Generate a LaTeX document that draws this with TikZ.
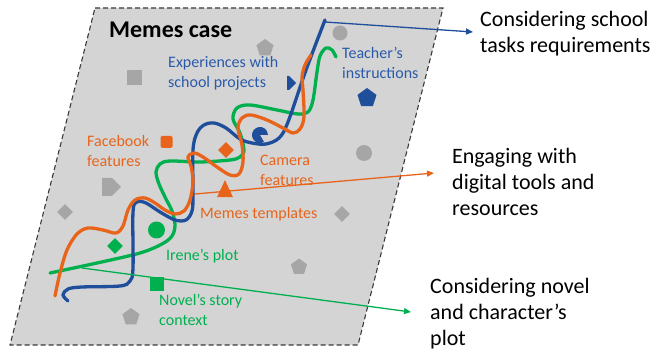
\documentclass[tikz,border=0pt]{standalone}
\usepackage{fontspec}
\setmainfont{Carlito}
\usetikzlibrary{shapes.geometric,shapes.symbols,arrows.meta}
\definecolor{cblue}{HTML}{1F4E9A}
\definecolor{tblue}{HTML}{2A5AA8}
\definecolor{corange}{HTML}{E8641B}
\definecolor{cgreen}{HTML}{00B04F}
\definecolor{bgray}{HTML}{D4D4D4}
\definecolor{sgray}{HTML}{A6A6A6}
\definecolor{dashc}{HTML}{3A3A3A}
\tikzset{
  wave/.style={line width=3.3pt,line cap=round,line join=round},
  conn/.style={line width=1.3pt,-{Triangle[length=7pt,width=6pt]}},
  lbl/.style={inner sep=0pt,anchor=west,align=left,font=\fontsize{16}{20}\selectfont},
  rtxt/.style={inner sep=0pt,anchor=west,align=left,font=\fontsize{22}{26}\selectfont,text=black},
  pent/.style={regular polygon,regular polygon sides=5,inner sep=0pt,minimum size=#1},
  dia/.style={diamond,inner sep=0pt,minimum width=#1,minimum height=#1},
  sq/.style={rectangle,inner sep=0pt,minimum size=#1},
  dot/.style={circle,inner sep=0pt,minimum size=#1},
  plate/.style={signal,signal to=east,inner sep=0pt}
}
\begin{document}
\begin{tikzpicture}[x=1pt,y=-1pt]
\useasboundingbox (0,0) rectangle (650,352);
% case area
\filldraw[fill=bgray,draw=dashc,line width=1.1pt,dash pattern=on 5pt off 3pt]
  (95,8) -- (443,8) -- (358,345) -- (10,345) -- cycle;
\node[anchor=west,inner sep=0pt,font=\fontsize{24}{28}\selectfont\bfseries] (title) at (109,30) {Memes case};
% gray shapes
\node[sq=15pt,fill=sgray] (g1) at (134.5,77.5) {};
\node[pent=18pt,fill=sgray] (g2) at (265,48) {};
\node[dot=15pt,fill=sgray] (g3) at (340,33) {};
\node[dot=16pt,fill=sgray] (g4) at (364,153) {};
\node[plate,fill=sgray,minimum width=19pt,minimum height=18pt] (g5) at (107,187) {};
\node[dia=16pt,fill=sgray] (g6) at (65,212) {};
\node[dia=16pt,fill=sgray] (g7) at (342,214) {};
\node[pent=17pt,fill=sgray] (g8) at (299,267) {};
\node[pent=18pt,fill=sgray] (g9) at (131,317) {};
% coloured markers
\node[plate,fill=cblue,minimum width=9pt,minimum height=14pt] (b1) at (288,83) {};
\node[pent=20pt,fill=cblue] (b2) at (367,98) {};
\fill[cblue] (260,135) -- ++(60:8) arc[start angle=60,end angle=360,radius=8] -- cycle;
\node[sq=12pt,fill=corange,rounded corners=1.5pt] (o1) at (166.5,142) {};
\node[dia=16pt,fill=corange] (o2) at (226,150) {};
\node[isosceles triangle,isosceles triangle apex angle=50,shape border rotate=90,fill=corange,inner sep=0pt,minimum height=17pt,minimum width=14pt] (o3) at (225,192) {};
\node[dot=17pt,fill=cgreen] (gr1) at (156.5,230) {};
\node[dia=16pt,fill=cgreen] (gr2) at (115,246) {};
\node[sq=14pt,fill=cgreen] (gr3) at (157,284) {};
% waves
\draw[wave,cgreen] plot[smooth,tension=0.55] coordinates {
 (50,273) (97,263) (140,253) (162,244) (172,236) (175,225) (172,211) (166,199)
 (159,184) (156,172) (160,164) (170,161) (200,162) (230,160) (240,157) (244,150)
 (240,133) (233,119) (237,108) (250,105) (277,110) (298,114) (308,112) (313,100)
 (317,72) (320,56) (326,48) (332,50) (336,57)};
\draw[wave,cblue] plot[smooth,tension=0.55] coordinates {
 (68,301) (63,295) (68,289) (82,287) (120,286) (130,281) (133,268) (133,212)
 (137,202) (146,203) (160,212) (175,220) (186,220) (192,211) (193,195) (193,150)
 (197,133) (204,125) (214,123) (226,128) (240,139) (252,143) (266,144) (279,138)
 (288,122) (306,70) (325,20)};
\draw[wave,corange] plot[smooth,tension=0.55] coordinates {
 (55,296) (60,273) (67,250) (77,234) (88,228) (103,230) (116,233) (123,226)
 (128,210) (135,200) (145,198) (155,203) (165,210) (175,214) (184,211) (190,200)
 (193,182) (191,166) (188,157) (194,153) (203,157) (217,167) (230,175) (239,174)
 (243,162) (242,145) (238,128) (242,118) (251,115) (267,120) (283,128) (293,133)
 (300,129) (304,117) (303,90) (302,77) (305,65) (311,55)};
% connector anchors
\coordinate (bs) at (325,22);
\coordinate (os) at (195,194);
\coordinate (gs) at (82,268);
\coordinate (be) at (473,32);
\coordinate (oe) at (434,173);
\coordinate (ge) at (411,312);
\draw[conn,cblue] (bs) -- (be);
\draw[conn,corange] (os) -- (oe);
\draw[conn,cgreen] (gs) -- (ge);
% labels
\node[lbl,text=tblue] (l1) at (168,73) {Experiences with\\school projects};
\node[lbl,text=tblue] (l2) at (342,63) {Teacher’s\\instructions};
\node[lbl,text=corange] (l3) at (87,151) {Facebook\\features};
\node[lbl,text=corange] (l4) at (260,170.5) {Camera\\features};
\node[lbl,text=corange] (l5) at (200,214) {Memes templates};
\node[lbl,text=cgreen] (l6) at (166,256) {Irene’s plot};
\node[lbl,text=cgreen] (l7) at (159,309.5) {Novel’s story\\context};
% right texts
\node[rtxt] (r1) at (480,34) {Considering school\\tasks requirements};
\node[rtxt] (r2) at (452,181.5) {Engaging with\\digital tools and\\resources};
\node[rtxt] (r3) at (430,313.5) {Considering novel\\and character’s\\plot};
\end{tikzpicture}
\end{document}
